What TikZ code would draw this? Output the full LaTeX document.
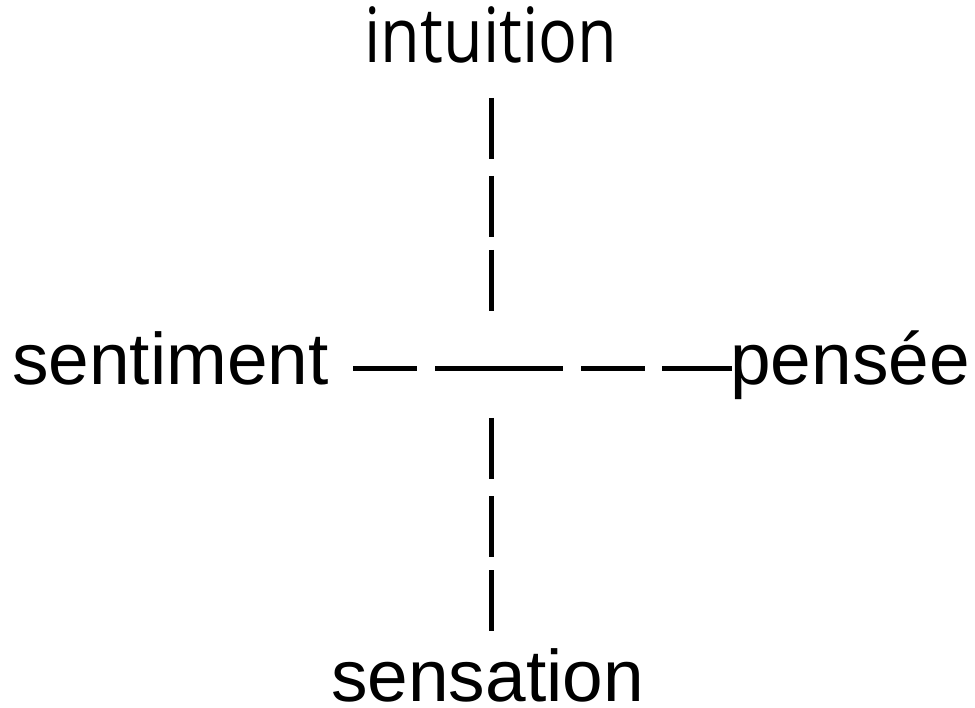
\documentclass[tikz,border=0pt]{standalone}
\usepackage{fontspec}
\setmainfont{Liberation Sans}
\newfontfamily\topfont{Open Sans}
\tikzset{
  lbl/.style={inner sep=0pt, outer sep=0pt, anchor=base, font=\fontsize{73}{80}\selectfont},
  toplbl/.style={inner sep=0pt, outer sep=0pt, anchor=base},
  seg/.style={line width=5pt, line cap=butt}
}
\begin{document}
\begin{tikzpicture}[x=1pt, y=-1pt]
\useasboundingbox (0,0) rectangle (975,708);
\node[toplbl] (intuition) at (491,63) {\scalebox{1.01}[1.19]{\topfont\fontsize{64}{70}\selectfont intuition}};
\node[lbl] (sentiment) at (170.5,385) {sentiment};
\node[lbl] (pensee) at (850,385) {pensée};
\node[lbl] (sensation) at (487.5,701) {sensation};
% horizontal dashes
\coordinate (h1a) at (353,368.5); \coordinate (h1b) at (417,368.5);
\coordinate (h2a) at (435,368.5); \coordinate (h2b) at (563,368.5);
\coordinate (h3a) at (581,368.5); \coordinate (h3b) at (645,368.5);
\coordinate (h4a) at (662,368.5); \coordinate (h4b) at (732,368.5);
\draw[seg] (h1a) -- (h1b);
\draw[seg] (h2a) -- (h2b);
\draw[seg] (h3a) -- (h3b);
\draw[seg] (h4a) -- (h4b);
% vertical bars, top
\coordinate (v1a) at (491.5,98);  \coordinate (v1b) at (491.5,159);
\coordinate (v2a) at (491.5,176); \coordinate (v2b) at (491.5,237);
\coordinate (v3a) at (491.5,250); \coordinate (v3b) at (491.5,311);
\draw[seg] (v1a) -- (v1b);
\draw[seg] (v2a) -- (v2b);
\draw[seg] (v3a) -- (v3b);
% vertical bars, bottom
\coordinate (v4a) at (491.5,418); \coordinate (v4b) at (491.5,479);
\coordinate (v5a) at (491.5,496); \coordinate (v5b) at (491.5,557);
\coordinate (v6a) at (491.5,570); \coordinate (v6b) at (491.5,631);
\draw[seg] (v4a) -- (v4b);
\draw[seg] (v5a) -- (v5b);
\draw[seg] (v6a) -- (v6b);
\end{tikzpicture}
\end{document}
